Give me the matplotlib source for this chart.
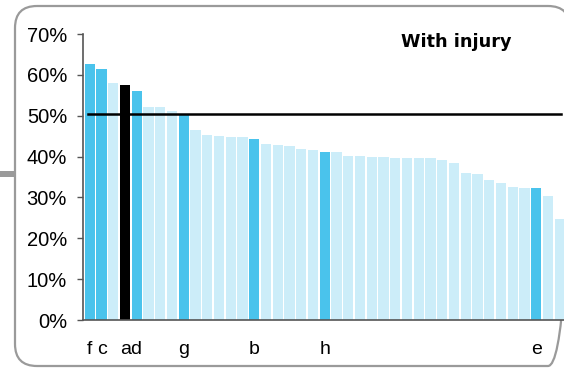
import matplotlib
matplotlib.use('Agg')
import matplotlib.pyplot as plt
from matplotlib.patches import FancyBboxPatch, Rectangle

# share of cases, sorted, with injury
values = [62.7, 61.5, 58.1, 57.4, 56.1, 52.2, 52.2, 51.2, 50.4, 46.6,
          45.3, 45.0, 44.8, 44.8, 44.3, 43.1, 42.8, 42.6, 41.8, 41.6,
          41.1, 41.1, 40.1, 40.1, 39.9, 39.9, 39.6, 39.6, 39.6, 39.6,
          39.2, 38.4, 35.9, 35.7, 34.3, 33.5, 32.5, 32.3, 32.3, 30.3, 24.7]
highlight = [0, 1, 4, 8, 14, 20, 38]   # bright blue bars
black_bar = 3
label_pos = [0, 1, 3.5, 8, 14, 20, 38]
label_txt = ['f', 'c', 'ad', 'g', 'b', 'h', 'e']
average = 50.5
yticks = [0, 10, 20, 30, 40, 50, 60, 70]

BRIGHT = '#4AC3EC'
LIGHT = '#CCEDF9'

colors = []
for i in range(len(values)):
    if i == black_bar:
        colors.append('black')
    elif i in highlight:
        colors.append(BRIGHT)
    else:
        colors.append(LIGHT)

W, H = 564, 369
fig = plt.figure(figsize=(W / 100, H / 100), dpi=100)
plt.rcParams['font.family'] = ['Liberation Sans', 'DejaVu Sans']

# pixel overlay for the frame and the connector stub
bg = fig.add_axes([0, 0, 1, 1], zorder=-1)
bg.set_xlim(0, W)
bg.set_ylim(H, 0)
bg.axis('off')
bg.add_patch(FancyBboxPatch((15, 6), 555, 360, boxstyle='round,pad=0,rounding_size=22',
                            fill=False, edgecolor='#9A9A9A', linewidth=1.6))
bg.add_patch(Rectangle((0, 171), 15, 6, facecolor='#9A9A9A', edgecolor='none'))
bg.text(401, 47, 'With injury', fontsize=12.7, fontweight='bold',
        family='DejaVu Sans', va='baseline', ha='left')

ax = fig.add_axes([83 / W, (H - 320) / H, (W - 83) / W, 286 / H])
ax.patch.set_alpha(0)
x = list(range(len(values)))
ax.bar(x, values, width=0.87, color=colors, linewidth=0)
ax.plot([-0.15, 40.1], [average, average], color='black', linewidth=1.8)

ax.set_xlim(-0.58, 40.37)
ax.set_ylim(0, 70)
ax.set_yticks(yticks)
ax.set_yticklabels([f'{t}%' for t in yticks], fontsize=14.5)
ax.set_xticks(label_pos)
ax.set_xticklabels(label_txt, fontsize=14)
ax.tick_params(axis='x', length=0, pad=15)
ax.tick_params(axis='y', length=4, width=1, color='#555555', pad=7.5)
for side in ['top', 'right']:
    ax.spines[side].set_visible(False)
for side in ['left', 'bottom']:
    ax.spines[side].set_color('#555555')
    ax.spines[side].set_linewidth(1.2)

fig.savefig('out.png', dpi=100)
